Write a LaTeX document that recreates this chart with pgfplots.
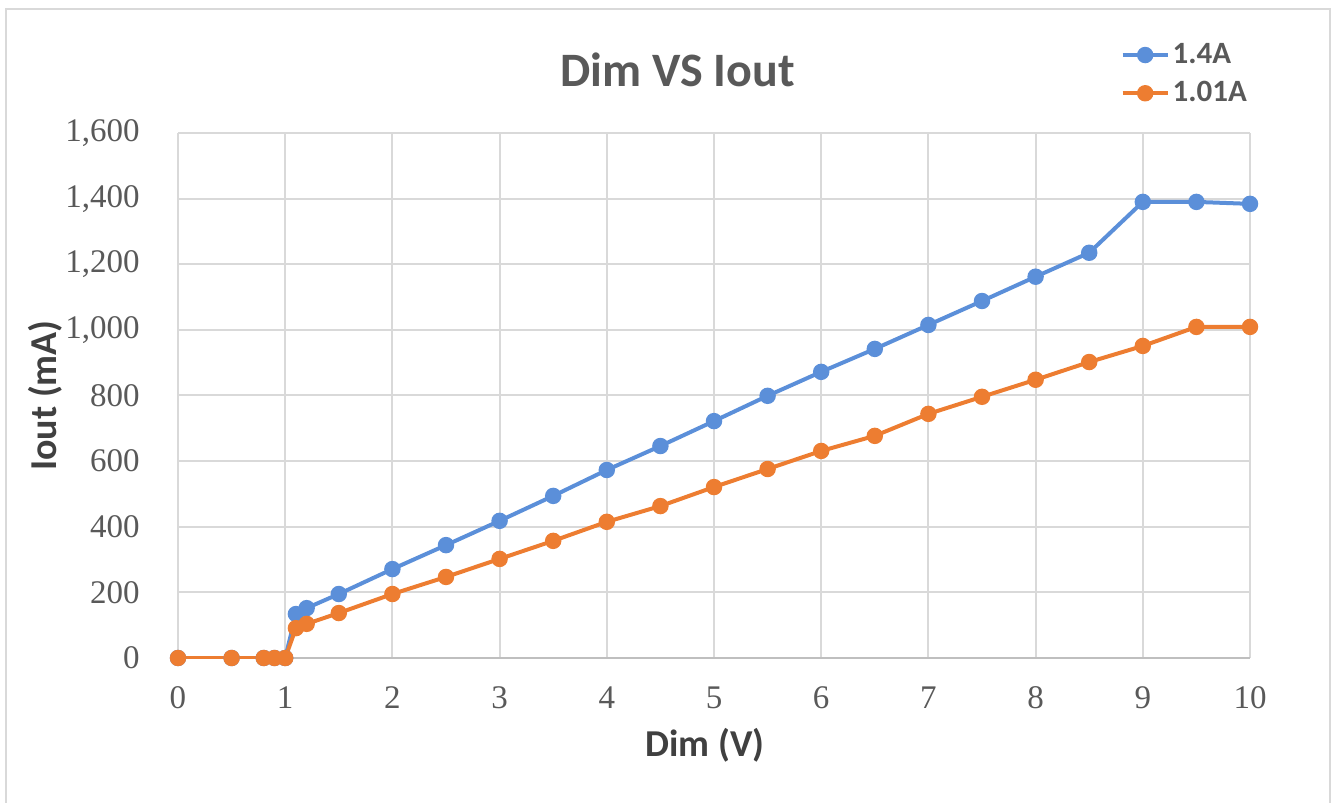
\documentclass[border=0pt]{standalone}
\usepackage{pgfplots}
\pgfplotsset{compat=1.18}
\usepackage{fontspec}
\setmainfont{Liberation Serif}
\newfontfamily\carlito{Carlito}
\definecolor{sblue}{HTML}{5B8FD9}
\definecolor{sorange}{HTML}{ED7D31}
\definecolor{gridc}{HTML}{D9D9D9}
\definecolor{basec}{HTML}{BFBFBF}
\definecolor{txt}{HTML}{595959}
\definecolor{labc}{HTML}{404040}
\begin{document}
\begin{tikzpicture}[x=1pt,y=1pt]
\useasboundingbox (0,0) rectangle (668,401);
\draw[gridc, line width=1pt] (3.2,-5) -- (3.2,396.5) -- (665,396.5) -- (665,-5);
\begin{axis}[
  at={(89pt,72pt)}, anchor=south west, scale only axis,
  width=536pt, height=262.5pt,
  xmin=0, xmax=10, ymin=0, ymax=1600,
  xtick={0,1,...,10}, ytick={0,200,...,1600},
  grid=major, major grid style={gridc, line width=1pt},
  axis line style={draw=none}, major tick length=0pt,
  /pgf/number format/assume math mode=true,
  /pgf/number format/1000 sep={,},
  xticklabel style={inner sep=0pt, anchor=north, text=txt, font=\fontsize{16.5}{18}\selectfont},
  yticklabel style={inner sep=0pt, anchor=east, text=txt, font=\fontsize{16.5}{18}\selectfont},
  xticklabel shift=14pt, yticklabel shift=19pt,
  title={Dim VS Iout},
  title style={at={(axis description cs:0.466,1.097)}, anchor=center, font=\carlito\bfseries\fontsize{24}{24}\selectfont, text=txt},
  xlabel={Dim (V)},
  xlabel style={at={(axis description cs:0.4916,-0.166)}, anchor=center, font=\carlito\bfseries\fontsize{19}{19}\selectfont, text=labc},
  ylabel={Iout (mA)},
  ylabel style={at={(axis description cs:-0.124,0.5)}, anchor=center, font=\carlito\bfseries\fontsize{19}{19}\selectfont, text=labc},
  legend style={draw=none, fill=none, at={(axis description cs:0.879,1.177)}, anchor=north west, inner sep=0pt, row sep=4.5pt, font=\carlito\bfseries\fontsize{15.5}{15.5}\selectfont, text=txt, nodes={inner sep=1.5pt}},
  legend cell align=left,
  legend image code/.code={\draw[mark repeat=2,mark phase=2,#1] plot coordinates {(0pt,0pt) (11.25pt,0pt) (22.5pt,0pt)};},
]
\draw[basec, line width=1.3pt] (axis cs:0,0) -- (axis cs:10,0);
\addplot[sblue, line width=2pt, mark=*, mark size=3.1pt, mark options={solid, fill=sblue, draw=sblue}] coordinates {
(0,0) (0.5,0) (0.8,0) (0.9,0) (1.0,0) (1.1,134) (1.2,152) (1.5,195) (2,271) (2.5,344) (3,418) (3.5,494) (4,573) (4.5,646) (5,722) (5.5,799) (6,872) (6.5,942) (7,1015) (7.5,1088) (8,1162) (8.5,1235) (9,1390) (9.5,1390) (10,1384)};
\addlegendentry{1.4A}
\addplot[sorange, line width=2pt, mark=*, mark size=3.1pt, mark options={solid, fill=sorange, draw=sorange}] coordinates {
(0,0) (0.5,0) (0.8,0) (0.9,0) (1.0,0) (1.1,91) (1.2,104) (1.5,137) (2,195) (2.5,247) (3,302) (3.5,357) (4,415) (4.5,463) (5,521) (5.5,576) (6,631) (6.5,677) (7,744) (7.5,796) (8,848) (8.5,902) (9,951) (9.5,1009) (10,1009)};
\addlegendentry{1.01A}
\end{axis}
\end{tikzpicture}
\end{document}
